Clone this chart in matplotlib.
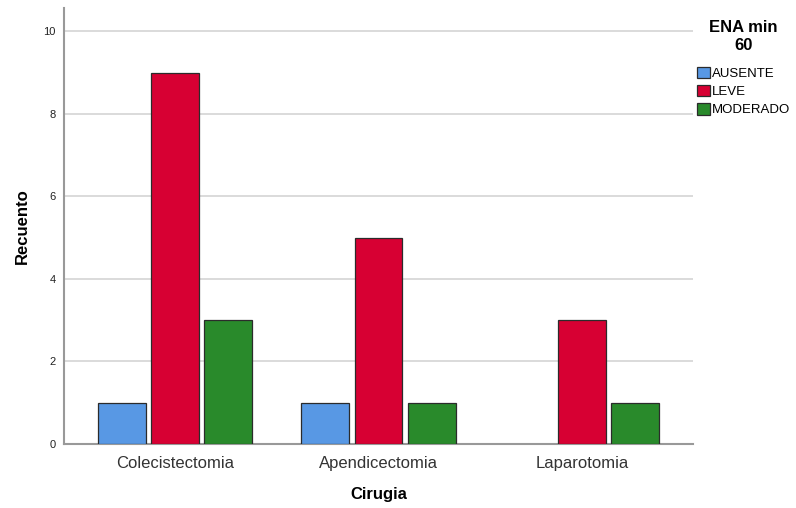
import matplotlib
matplotlib.use("Agg")
import matplotlib.pyplot as plt
import numpy as np
from matplotlib.patches import Patch

categories = ["Colecistectomia", "Apendicectomia", "Laparotomia"]
series_names = ["AUSENTE", "LEVE", "MODERADO"]
ausente = [1, 1, 0]
leve = [9, 5, 3]
moderado = [3, 1, 1]
colors = ["#5898e4", "#d70033", "#298a2b"]

plt.rcParams['font.family'] = ['Liberation Sans', 'DejaVu Sans']

fig = plt.figure(figsize=(7.96, 5.08), dpi=100)
ax = fig.add_axes([0.0804, 0.126, 0.7902, 0.858])

x = np.arange(len(categories))
w = 0.236
off = 0.261
for i, (vals, c) in enumerate(zip([ausente, leve, moderado], colors)):
    bars = ax.bar(x + (i - 1) * off, vals, width=w, color=c, edgecolor="#2b2b2b",
                  linewidth=0.9, zorder=3)
    for b, v in zip(bars, vals):
        if v == 0:
            b.set_visible(False)

ax.set_xlim(-0.547, 2.547)
ax.set_ylim(0, 10.56)
ax.set_yticks([0, 2, 4, 6, 8, 10])
ax.yaxis.grid(True, color="#d4d4d4", linewidth=1.2, zorder=0)
ax.set_axisbelow(True)
for s in ["top", "right"]:
    ax.spines[s].set_visible(False)
for s in ["left", "bottom"]:
    ax.spines[s].set_color("#999999")
    ax.spines[s].set_linewidth(1.5)
ax.tick_params(axis="y", length=0, labelsize=8, pad=6, colors="#222222")
ax.tick_params(axis="x", length=0, labelsize=12, pad=9, colors="#333333")
ax.set_xticks(x)
ax.set_xticklabels(categories)
ax.set_xlabel("Cirugia", fontsize=12, fontweight="bold", labelpad=11)
ax.set_ylabel("Recuento", fontsize=12, fontweight="bold", labelpad=10)

handles = [Patch(facecolor=c, edgecolor="#2b2b2b", linewidth=0.9) for c in colors]
leg = fig.legend(handles, series_names, title="ENA min\n60", loc="upper left",
                 bbox_to_anchor=(0.875, 0.96), frameon=False, fontsize=9.5,
                 handlelength=1.0, handleheight=1.0, handletextpad=0.2,
                 labelspacing=0.35, borderaxespad=0, borderpad=0)
leg.get_title().set_fontweight("bold")
leg.get_title().set_fontsize(12)
leg.get_title().set_multialignment("center")
leg._legend_box.sep = 10

fig.savefig("out.png", dpi=100)
